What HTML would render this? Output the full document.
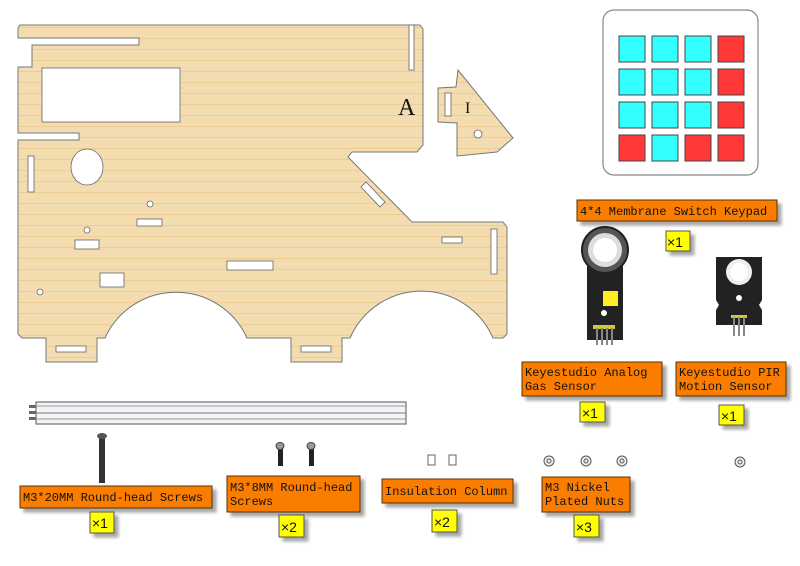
<!DOCTYPE html>
<html><head><meta charset="utf-8"><style>
body{margin:0;background:#fff;width:800px;height:566px;overflow:hidden}
svg{display:block}
.lb{font-family:"Liberation Mono",monospace;font-size:12px;fill:#111}
.x{font-family:"Liberation Sans","Noto Sans CJK SC",sans-serif;font-size:14px;fill:#111}
</style></head><body>
<svg width="800" height="566" viewBox="0 0 800 566" xmlns="http://www.w3.org/2000/svg">
<defs>
<pattern id="wood" width="60" height="11" patternUnits="userSpaceOnUse">
<rect width="60" height="11" fill="#f3dcb0"/>
<rect y="5" width="60" height="1" fill="#ebc27e" opacity="0.6"/>
</pattern>
<filter id="sh" x="-10%" y="-10%" width="130%" height="150%"><feDropShadow dx="4" dy="4" stdDeviation="1.5" flood-color="#000" flood-opacity="0.35"/></filter>
</defs>
<path d="M20,25 L420,25 L423,29 L423,145 L417,152 L352,152 L348,157 L412,222 L503,222 L507,227 L507,334 L503,338 L493,338 A78,78 0 0 0 350,338 L342,338 L342,362 L291,362 L291,338 L247,338 A78,78 0 0 0 105,338 L97,338 L97,362 L46,362 L46,338 L22,338 L18,334 L18,140 L79,140 L79,133 L18,133 L18,67 L32,67 L32,45 L139,45 L139,38 L18,38 L18,28 Z" fill="url(#wood)" stroke="#777" stroke-width="1"/>
<g fill="#fff" stroke="#666" stroke-width="0.8">
<rect x="42" y="68" width="138" height="54"/>
<ellipse cx="87" cy="167" rx="16" ry="18"/>
<rect x="28" y="156" width="6" height="36"/>
<circle cx="150" cy="204" r="3"/><circle cx="87" cy="230" r="3"/><circle cx="40" cy="292" r="3"/>
<rect x="137" y="219" width="25" height="7"/>
<rect x="75" y="240" width="24" height="9"/>
<rect x="100" y="273" width="24" height="14"/>
<rect x="227" y="261" width="46" height="9"/>
<rect x="442" y="237" width="20" height="6"/>
<rect x="409" y="25" width="5" height="45"/>
<rect x="491" y="229" width="6" height="45"/>
<rect x="56" y="346" width="30" height="6"/>
<rect x="301" y="346" width="30" height="6"/>
<polygon points="361,187 366,182 385,202 380,207"/>
</g>
<text x="398" y="115" font-family="Liberation Serif,serif" font-size="24" fill="#111">A</text>
<path d="M456,87 L458,70 L513,138 L497,152 L457,156 L457,123 L438,122 L438,88 Z" fill="url(#wood)" stroke="#777"/>
<rect x="445" y="93" width="6" height="23" fill="#fff" stroke="#666" stroke-width="0.8"/>
<circle cx="478" cy="134" r="4" fill="#fff" stroke="#666" stroke-width="0.8"/>
<text x="465" y="113" font-family="Liberation Serif,serif" font-size="16" fill="#111">I</text>
<rect x="603" y="10" width="155" height="165" rx="11" fill="#fff" stroke="#888" stroke-width="1.2"/>
<g stroke="#444" stroke-width="1">
<rect x="619" y="36" width="26" height="26" fill="#33ffff"/><rect x="652" y="36" width="26" height="26" fill="#33ffff"/><rect x="685" y="36" width="26" height="26" fill="#33ffff"/><rect x="718" y="36" width="26" height="26" fill="#ff3838"/>
<rect x="619" y="69" width="26" height="26" fill="#33ffff"/><rect x="652" y="69" width="26" height="26" fill="#33ffff"/><rect x="685" y="69" width="26" height="26" fill="#33ffff"/><rect x="718" y="69" width="26" height="26" fill="#ff3838"/>
<rect x="619" y="102" width="26" height="26" fill="#33ffff"/><rect x="652" y="102" width="26" height="26" fill="#33ffff"/><rect x="685" y="102" width="26" height="26" fill="#33ffff"/><rect x="718" y="102" width="26" height="26" fill="#ff3838"/>
<rect x="619" y="135" width="26" height="26" fill="#ff3838"/><rect x="652" y="135" width="26" height="26" fill="#33ffff"/><rect x="685" y="135" width="26" height="26" fill="#ff3838"/><rect x="718" y="135" width="26" height="26" fill="#ff3838"/>
</g>
<rect x="587" y="245" width="36" height="95" fill="#222"/>
<circle cx="605" cy="250" r="23" fill="#555" stroke="#222" stroke-width="2"/>
<circle cx="605" cy="250" r="17" fill="#ddd"/>
<circle cx="605" cy="250" r="12" fill="#fff"/>
<rect x="603" y="291" width="15" height="15" fill="#ffee22"/>
<circle cx="604" cy="313" r="3" fill="#fff"/>
<rect x="593" y="325" width="22" height="4" fill="#cc3"/>
<g stroke="#888" stroke-width="2"><line x1="597" y1="328" x2="597" y2="345"/><line x1="602" y1="328" x2="602" y2="345"/><line x1="607" y1="328" x2="607" y2="345"/><line x1="612" y1="328" x2="612" y2="345"/></g>
<path d="M716,257 L762,257 L762,300 L759,305 L762,310 L762,325 L716,325 L716,310 L719,305 L716,300 Z" fill="#222"/>
<circle cx="739" cy="272" r="13" fill="#eee"/><circle cx="739" cy="272" r="9" fill="#fff"/>
<circle cx="739" cy="298" r="3" fill="#fff"/>
<rect x="731" y="315" width="16" height="3" fill="#cc3"/>
<g stroke="#888" stroke-width="2"><line x1="734" y1="317" x2="734" y2="336"/><line x1="739" y1="317" x2="739" y2="336"/><line x1="744" y1="317" x2="744" y2="336"/></g>
<rect x="36" y="402" width="370" height="22" fill="#f4f4f8" stroke="#555"/>
<line x1="36" y1="406" x2="406" y2="406" stroke="#999"/><line x1="36" y1="413" x2="406" y2="413" stroke="#777"/><line x1="36" y1="419" x2="406" y2="419" stroke="#999"/>
<g fill="#666"><rect x="29" y="405" width="7" height="3"/><rect x="29" y="411" width="7" height="3"/><rect x="29" y="417" width="7" height="3"/></g>
<rect x="99" y="438" width="6" height="45" fill="#333"/><ellipse cx="102" cy="436" rx="5" ry="3" fill="#555"/>
<rect x="278" y="448" width="5" height="18" fill="#222"/><ellipse cx="280" cy="446" rx="4" ry="3.5" fill="#999" stroke="#444"/>
<rect x="309" y="448" width="5" height="18" fill="#222"/><ellipse cx="311" cy="446" rx="4" ry="3.5" fill="#999" stroke="#444"/>
<g fill="#fff" stroke="#666"><rect x="428" y="455" width="7" height="10"/><rect x="449" y="455" width="7" height="10"/></g>
<g fill="#eee" stroke="#555"><circle cx="549" cy="461" r="5"/><circle cx="586" cy="461" r="5"/><circle cx="622" cy="461" r="5"/><circle cx="740" cy="462" r="5"/></g>
<g fill="none" stroke="#555"><circle cx="549" cy="461" r="2"/><circle cx="586" cy="461" r="2"/><circle cx="622" cy="461" r="2"/><circle cx="740" cy="462" r="2"/></g>
<g fill="#fb7d00" stroke="#5a3000" stroke-width="1" filter="url(#sh)">
<rect x="577" y="200" width="200" height="21"/>
<rect x="522" y="362" width="140" height="34"/>
<rect x="676" y="362" width="110" height="34"/>
<rect x="20" y="486" width="192" height="22"/>
<rect x="227" y="476" width="133" height="36"/>
<rect x="382" y="479" width="131" height="24"/>
<rect x="542" y="477" width="88" height="35"/>
</g>
<g fill="#ffff00" stroke="#555" stroke-width="1" filter="url(#sh)">
<rect x="666" y="231" width="24" height="20"/>
<rect x="580" y="402" width="25" height="20"/>
<rect x="719" y="405" width="25" height="20"/>
<rect x="90" y="512" width="24" height="21"/>
<rect x="279" y="515" width="25" height="22"/>
<rect x="432" y="510" width="25" height="22"/>
<rect x="574" y="515" width="25" height="22"/>
</g>
<text class="lb" x="580" y="215">4*4 Membrane Switch Keypad</text>
<text class="lb" x="525" y="376">Keyestudio  Analog</text><text class="lb" x="525" y="390">Gas Sensor</text>
<text class="lb" x="679" y="376">Keyestudio PIR</text><text class="lb" x="679" y="390">Motion Sensor</text>
<text class="lb" x="23" y="501">M3*20MM Round-head Screws</text>
<text class="lb" x="230" y="491">M3*8MM Round-head</text><text class="lb" x="230" y="505">Screws</text>
<text class="lb" x="385" y="495">Insulation Column</text>
<text class="lb" x="545" y="491">M3 Nickel</text><text class="lb" x="545" y="505">Plated Nuts</text>
<text class="x" x="667" y="247">×1</text>
<text class="x" x="582" y="418">×1</text>
<text class="x" x="721" y="421">×1</text>
<text class="x" x="92" y="528">×1</text>
<text class="x" x="281" y="532">×2</text>
<text class="x" x="434" y="527">×2</text>
<text class="x" x="576" y="532">×3</text>
</svg>
</body></html>
